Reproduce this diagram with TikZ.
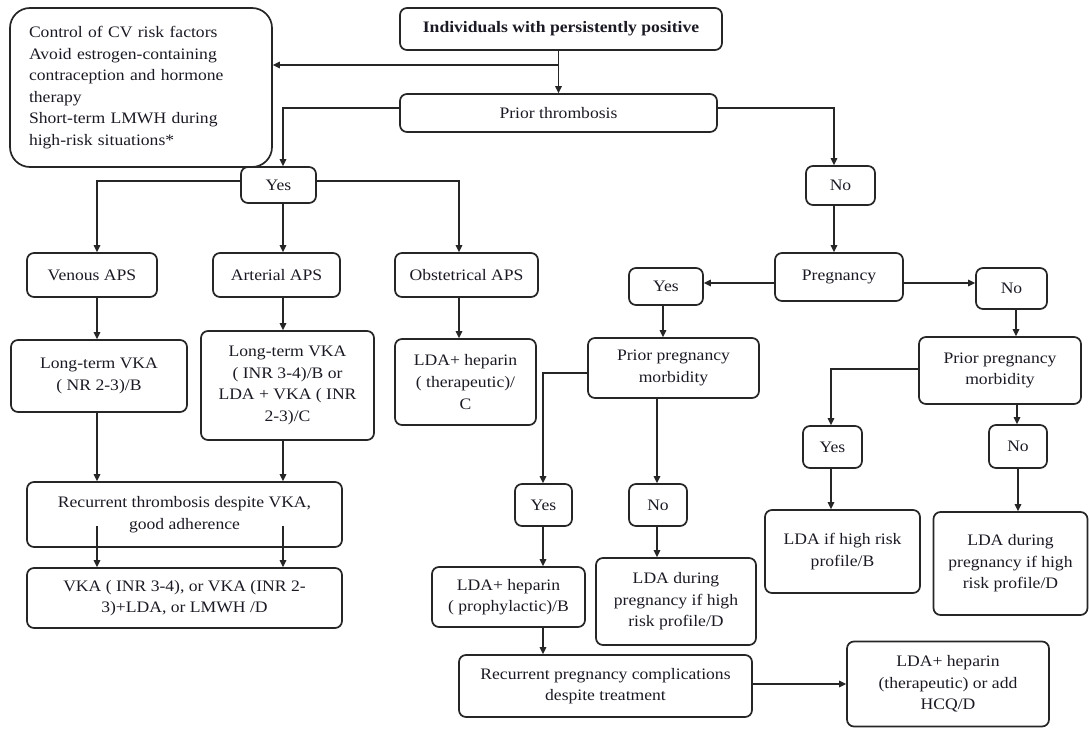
\documentclass[tikz,border=0pt]{standalone}
\usepackage{fontspec}
\setmainfont{Liberation Serif}[FakeStretch=1.1]
\usetikzlibrary{arrows.meta,calc}
\definecolor{linecol}{HTML}{262626}
\definecolor{txtcol}{HTML}{1A1A24}
\tikzset{
  box/.style={draw=linecol, line width=1.7pt, rounded corners=7pt, align=center,
    inner sep=2pt, text=txtcol, font=\fontsize{16}{21.6}\selectfont},
  arr/.style={draw=linecol, line width=1.5pt, -{Triangle[length=7pt,width=6.5pt]}},
  ln/.style={draw=linecol, line width=1.5pt}
}
\begin{document}
\begin{tikzpicture}[x=1pt,y=-1pt]
\useasboundingbox (0,0) rectangle (1089,728);
% nodes
\node[box, rounded corners=20pt, minimum width=262pt, minimum height=159pt, text width=224pt, align=left] (cv) at (141,87.5)
 {Control of CV risk factors\\Avoid estrogen-containing\\contraception and hormone\\therapy\\Short-term LMWH during\\high-risk situations*};
\node[box, minimum width=322pt, minimum height=42pt, font=\fontsize{16}{21.6}\selectfont\bfseries] (top) at (561,29) {Individuals with persistently positive};
\node[box, minimum width=317pt, minimum height=38pt] (pt) at (558.5,113) {Prior thrombosis};
\node[box, minimum width=75pt, minimum height=36pt] (yes1) at (278.5,185) {Yes};
\node[box, minimum width=69pt, minimum height=39pt] (no1) at (840.5,185.5) {No};
\node[box, minimum width=130pt, minimum height=44pt] (ven) at (92,275) {Venous APS};
\node[box, minimum width=127pt, minimum height=44pt] (art) at (276.5,275) {Arterial APS};
\node[box, minimum width=143pt, minimum height=44pt] (obs) at (466.5,275) {Obstetrical APS};
\node[box, minimum width=176pt, minimum height=72pt] (vka1) at (99,376) {Long-term VKA\\( NR 2-3)/B};
\node[box, minimum width=173pt, minimum height=109pt] (vka2) at (287.5,385.5) {Long-term VKA\\( INR 3-4)/B or\\LDA + VKA ( INR\\2-3)/C};
\node[box, minimum width=141pt, minimum height=86pt] (lda1) at (465.5,382) {LDA+ heparin\\( therapeutic)/\\C};
\node[box, minimum width=315pt, minimum height=65pt] (rt) at (184.5,514.5) {Recurrent thrombosis despite VKA,\\good adherence};
\node[box, minimum width=315pt, minimum height=60pt] (vka3) at (184.5,598) {VKA ( INR 3-4), or VKA (INR 2-\\3)+LDA, or LMWH /D};
\node[box, minimum width=128pt, minimum height=48pt] (preg) at (839,277) {Pregnancy};
\node[box, minimum width=74pt, minimum height=37pt] (yes2) at (666,286.5) {Yes};
\node[box, minimum width=71pt, minimum height=41pt] (no2) at (1011.5,288.5) {No};
\node[box, minimum width=171pt, minimum height=60pt] (ppm1) at (673.5,368) {Prior pregnancy\\morbidity};
\node[box, minimum width=162pt, minimum height=67pt] (ppm2) at (1000,370.5) {Prior pregnancy\\morbidity};
\node[box, minimum width=57pt, minimum height=42pt] (yes3) at (543.5,505) {Yes};
\node[box, minimum width=58pt, minimum height=42pt] (no3) at (658,505) {No};
\node[box, minimum width=153pt, minimum height=60pt] (lda2) at (508.5,597) {LDA+ heparin\\( prophylactic)/B};
\node[box, minimum width=160pt, minimum height=87pt] (ldaD1) at (676,601.5) {LDA during\\pregnancy if high\\risk profile/D};
\node[box, minimum width=293pt, minimum height=62pt] (rpc) at (605.5,686) {Recurrent pregnancy complications\\despite treatment};
\node[box, minimum width=202pt, minimum height=85pt] (ther) at (948,684) {LDA+ heparin\\(therapeutic) or add\\HCQ/D};
\node[box, minimum width=59pt, minimum height=42pt] (yes4) at (832.5,447) {Yes};
\node[box, minimum width=58pt, minimum height=43pt] (no4) at (1018,446.5) {No};
\node[box, minimum width=155pt, minimum height=83pt] (ldaB) at (842.5,551.5) {LDA if high risk\\profile/B};
\node[box, minimum width=154pt, minimum height=103pt] (ldaD2) at (1010.5,563.5) {LDA during\\pregnancy if high\\risk profile/D};
% junction coordinates
\coordinate (j1) at (558.5,65);
\coordinate (rtin) at ([yshift=22pt]rt.south);
% connectors
\draw[arr] (top.south -| pt) -- (pt.north);
\draw[arr] (j1) -- (j1 -| cv.east);
\draw[arr] (pt.west |- 0,108) -| (yes1.north -| 283,0);
\draw[arr] (pt.east |- 0,108) -| (no1.north -| 834,0);
\draw[arr] (yes1.west |- 0,181) -| (ven.north -| 97,0);
\draw[arr] (yes1.south -| 283,0) -- (art.north -| 283,0);
\draw[arr] (yes1.east |- 0,181) -| (obs.north -| 459,0);
\draw[arr] (ven.south -| 97,0) -- (vka1.north -| 97,0);
\draw[arr] (art.south -| 283,0) -- (vka2.north -| 283,0);
\draw[arr] (obs.south -| 459,0) -- (lda1.north -| 459,0);
\draw[arr] (vka1.south -| 97,0) -- (rt.north -| 97,0);
\draw[arr] (vka2.south -| 283,0) -- (rt.north -| 283,0);
\draw[arr] (rtin -| 97,0) -- (vka3.north -| 97,0);
\draw[arr] (rtin -| 283,0) -- (vka3.north -| 283,0);
\draw[arr] (no1.south -| 834,0) -- (preg.north -| 834,0);
\draw[arr] (preg.west |- 0,283) -- (yes2.east |- 0,283);
\draw[arr] (preg.east |- 0,283) -- (no2.west |- 0,283);
\draw[arr] (yes2.south -| 663,0) -- (ppm1.north -| 663,0);
\draw[arr] (ppm1.west |- 0,373) -| (yes3.north -| 543,0);
\draw[arr] (ppm1.south -| 657,0) -- (no3.north -| 657,0);
\draw[arr] (yes3.south -| 543,0) -- (lda2.north -| 543,0);
\draw[arr] (no3.south -| 657,0) -- (ldaD1.north -| 657,0);
\draw[arr] (lda2.south -| 543,0) -- (rpc.north -| 543,0);
\draw[arr] (rpc.east |- 0,684) -- (ther.west |- 0,684);
\draw[arr] (no2.south -| 1016,0) -- (ppm2.north -| 1016,0);
\draw[arr] (ppm2.west |- 0,369) -| (yes4.north -| 831,0);
\draw[arr] (ppm2.south -| 1017,0) -- (no4.north -| 1017,0);
\draw[arr] (yes4.south -| 831,0) -- (ldaB.north -| 831,0);
\draw[arr] (no4.south -| 1018,0) -- (ldaD2.north -| 1018,0);
\end{tikzpicture}
\end{document}
